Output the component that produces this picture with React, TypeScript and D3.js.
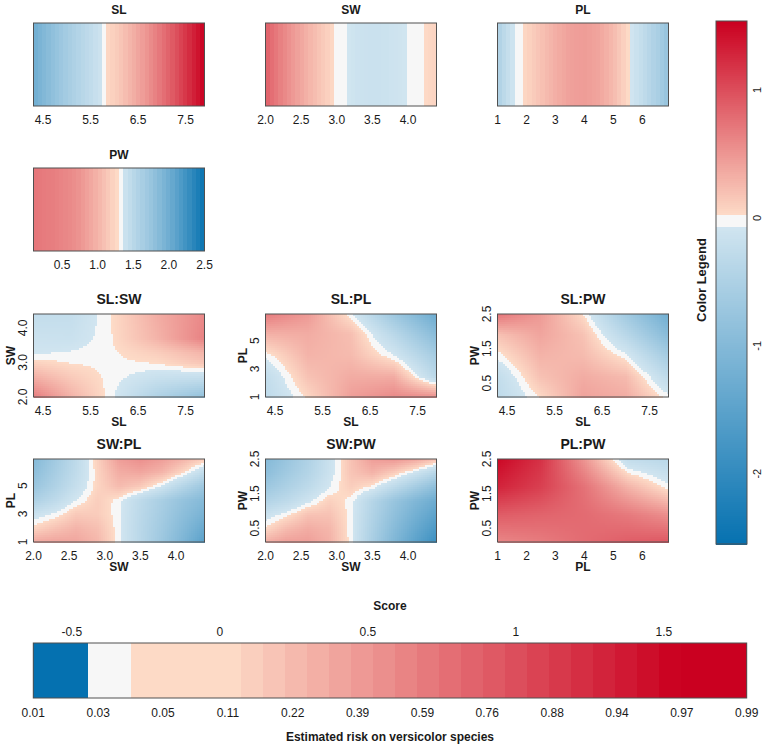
import React from "react";
import * as d3 from "d3";

const FONT = "'Liberation Sans', Arial, Helvetica, sans-serif";

// ---------- 1D main effects (score along each variable) ----------
const SL_X = [4.3, 4.6, 4.9, 5.2, 5.5, 5.75, 5.8, 6.1, 6.4, 6.7, 7.0, 7.3, 7.6, 7.9];
const SL_SCORE = [-1.25, -0.95, -0.68, -0.45, -0.26, -0.08, 0.03, 0.15, 0.33, 0.52, 0.74, 0.98, 1.25, 1.54];
const SW_X = [2.0, 2.2, 2.4, 2.6, 2.8, 2.97, 3.15, 3.3, 3.5, 3.7, 3.98, 4.2, 4.4];
const SW_SCORE = [0.88, 0.66, 0.47, 0.3, 0.15, 0.025, -0.06, -0.12, -0.15, -0.13, -0.06, 0.025, 0.07];
const PL_X = [1.0, 1.3, 1.58, 1.82, 2.0, 2.5, 3.0, 3.5, 4.0, 4.5, 5.0, 5.3, 5.52, 5.62, 6.0, 6.5, 6.9];
const PL_SCORE = [-0.5, -0.25, -0.06, 0.025, 0.07, 0.2, 0.33, 0.43, 0.46, 0.4, 0.25, 0.12, 0.025, -0.06, -0.25, -0.52, -0.8];
const PW_X = [0.1, 0.4, 0.7, 1.0, 1.2, 1.28, 1.34, 1.5, 1.75, 2.0, 2.25, 2.5];
const PW_SCORE = [0.72, 0.66, 0.55, 0.3, 0.1, 0.025, -0.06, -0.35, -0.75, -1.25, -1.85, -2.5];

// ---------- 2D interaction grids (rows = ascending y) ----------
const SLSW_X = [4.3, 5.1, 5.87, 6.9, 7.9];
const SLSW_Y = [2.0, 2.5, 3.0, 3.3, 3.7, 4.4];
const SLSW_GRID = [
  [0.7, 0.32, 0, -0.49, -0.86],
  [0.39, 0.17, 0, -0.21, -0.3],
  [0.09, 0.02, 0, 0.03, 0.18],
  [-0.08, -0.05, 0, 0.12, 0.3],
  [-0.13, -0.15, 0, 0.3, 0.65],
  [-0.24, -0.22, 0, 0.35, 0.6],
];

const SLPL_X = [4.3, 5.2, 6.1, 7.0, 7.9];
const SLPL_Y = [1.0, 2.5, 4.0, 5.5, 6.9];
const SLPL_GRID = [
  [-0.3, 0.05, 0.45, 0.6, 0.6],
  [-0.25, 0.2, 0.35, 0.35, -0.35],
  [-0.03, 0.3, 0.25, -0.06, -0.6],
  [0.32, 0.35, 0.22, -0.35, -0.95],
  [0.7, 0.48, -0.03, -0.7, -1.3],
];

const SLPW_X = [4.3, 5.2, 6.1, 7.0, 7.9];
const SLPW_Y = [0.1, 0.7, 1.3, 1.9, 2.5];
const SLPW_GRID = [
  [-0.3, 0.03, 0.42, 0.35, -0.02],
  [-0.25, 0.2, 0.35, 0.25, -0.3],
  [-0.03, 0.3, 0.25, -0.02, -0.6],
  [0.2, 0.4, 0.2, -0.35, -0.95],
  [0.75, 0.48, 0.03, -0.65, -1.25],
];

const SWPL_X = [2.0, 2.3, 2.6, 2.9, 3.2, 3.5, 3.8, 4.1, 4.4];
const SWPL_Y = [1.0, 2.0, 3.0, 4.0, 5.0, 6.0, 6.9];
const SWPL_GRID = [
  [0.4, 0.42, 0.4, 0.28, -0.03, -0.35, -0.7, -1.1, -1.55],
  [0.08, 0.2, 0.3, 0.22, -0.03, -0.35, -0.65, -1.0, -1.35],
  [-0.15, -0.03, 0.15, 0.13, -0.03, -0.33, -0.6, -0.9, -1.15],
  [-0.5, -0.3, -0.06, 0.12, -0.02, -0.3, -0.55, -0.8, -1.0],
  [-0.75, -0.48, -0.2, 0.07, 0.25, 0.15, -0.08, -0.4, -0.7],
  [-0.9, -0.58, -0.27, 0.08, 0.35, 0.4, 0.3, 0.06, -0.25],
  [-1.0, -0.65, -0.3, 0.1, 0.45, 0.55, 0.45, 0.3, 0.12],
];

const SWPW_X = [2.0, 2.3, 2.6, 2.9, 3.2, 3.5, 3.8, 4.1, 4.4];
const SWPW_Y = [0.1, 0.5, 0.9, 1.3, 1.7, 2.1, 2.5];
const SWPW_GRID = [
  [0.35, 0.45, 0.45, 0.32, -0.02, -0.55, -1.05, -1.5, -1.9],
  [0.05, 0.25, 0.35, 0.28, -0.02, -0.5, -0.95, -1.35, -1.7],
  [-0.15, 0.0, 0.2, 0.2, -0.02, -0.45, -0.85, -1.2, -1.5],
  [-0.45, -0.3, -0.1, 0.1, -0.01, -0.4, -0.75, -1.05, -1.3],
  [-0.7, -0.5, -0.3, -0.06, 0.12, -0.01, -0.3, -0.6, -0.9],
  [-0.9, -0.65, -0.42, -0.13, 0.18, 0.3, 0.12, -0.12, -0.4],
  [-1.0, -0.75, -0.48, -0.15, 0.2, 0.45, 0.5, 0.4, 0.2],
];

const PLPW_X = [1.0, 2.5, 4.0, 5.5, 6.9];
const PLPW_Y = [0.1, 0.9, 1.7, 2.5];
const PLPW_GRID = [
  [0.6, 0.68, 0.8, 0.9, 0.95],
  [0.9, 0.85, 0.8, 0.7, 0.55],
  [1.3, 1.1, 0.75, 0.3, -0.03],
  [1.5, 1.2, 0.5, -0.25, -0.35],
];

// ---------- axis ticks ----------
const SL_TICKS = [4.5, 5.5, 6.5, 7.5];
const SW_TICKS = [2.0, 2.5, 3.0, 3.5, 4.0];
const PL_TICKS = [1, 2, 3, 4, 5, 6];
const PW_TICKS = [0.5, 1.0, 1.5, 2.0, 2.5];
const SW_YTICKS = [2.0, 3.0, 4.0];
const PL_YTICKS = [1, 3, 5];
const PW_YTICKS = [0.5, 1.5, 2.5];

// ---------- legends ----------
const COLOR_LEGEND_TICKS = [-2, -1, 0, 1];
const SCORE_TICKS = [-0.5, 0, 0.5, 1, 1.5];
const RISK_LABELS = ["0.01", "0.03", "0.05", "0.11", "0.22", "0.39", "0.59", "0.76", "0.88", "0.94", "0.97", "0.99"];
const LEGEND_EDGES = [-0.63, -0.445, -0.3, -0.226, -0.151, -0.077, -0.003, 0.072, 0.146, 0.22, 0.294, 0.369, 0.443, 0.517, 0.592, 0.666, 0.74, 0.815, 0.889, 0.963, 1.037, 1.112, 1.186, 1.26, 1.334, 1.409, 1.483, 1.557, 1.632, 1.706, 1.78];
const LEGEND_LEVELS = [-2.55, -0.02, 0.03, 0.03, 0.03, 0.03, 0.034, 0.109, 0.183, 0.257, 0.332, 0.406, 0.48, 0.554, 0.629, 0.703, 0.777, 0.852, 0.926, 1.0, 1.074, 1.149, 1.223, 1.297, 1.371, 1.446, 1.52, 1.54, 1.54, 1.54];

const SCORE_MAX = 1.54;
const SCORE_MIN = -2.55;

// ---------- colour ----------
const redI = d3.interpolateRgb("#fddbc7", "#ca0020");
const blueI = d3.interpolateRgb("#d1e5f0", "#0571b0");
const WHITE_HI = 0.025;
const WHITE_LO = -0.06;
function scoreColor(v: number): string {
  if (v >= WHITE_HI) return redI(Math.min(1, (v - WHITE_HI) / (SCORE_MAX - WHITE_HI)));
  if (v <= WHITE_LO) return blueI(Math.min(1, (WHITE_LO - v) / (WHITE_LO - SCORE_MIN)));
  return "#f7f7f7";
}

function interp1(xs: number[], vs: number[], x: number): number {
  if (x <= xs[0]) return vs[0];
  if (x >= xs[xs.length - 1]) return vs[vs.length - 1];
  const i = d3.bisectRight(xs, x) - 1;
  const t = (x - xs[i]) / (xs[i + 1] - xs[i]);
  return vs[i] * (1 - t) + vs[i + 1] * t;
}
function interp2(xs: number[], ys: number[], grid: number[][], x: number, y: number): number {
  const col = grid.map((row) => interp1(xs, row, x));
  return interp1(ys, col, y);
}

const BORDER = "#505050";
const TXT = "#1a1a1a";
const COLS = [33.5, 265.5, 497.5];
const PW_ = 171;
const PH = 83;

type P1 = { title: string; xs: number[]; vs: number[]; domain: [number, number]; ticks: number[]; fmt: string; x0: number; y0: number };

function Panel1D({ p }: { p: P1 }) {
  const x = d3.scaleLinear().domain(p.domain).range([p.x0, p.x0 + PW_]);
  const n = 40;
  const step = (p.domain[1] - p.domain[0]) / n;
  const stripes = d3.range(n).map((i) => {
    const a = p.domain[0] + i * step;
    return { a, b: a + step, v: interp1(p.xs, p.vs, a + step / 2) };
  });
  const f = d3.format(p.fmt);
  return (
    <g>
      <text x={p.x0 + PW_ / 2} y={p.y0 - 9.5} textAnchor="middle" fontWeight="bold" fontSize={12} fill={TXT}>{p.title}</text>
      <g shapeRendering="crispEdges">
        {stripes.map((s, i) => (
          <rect key={i} x={x(s.a)} y={p.y0} width={x(s.b) - x(s.a) + 0.6} height={PH} fill={scoreColor(s.v)} />
        ))}
      </g>
      <rect x={p.x0} y={p.y0} width={PW_} height={PH} fill="none" stroke={BORDER} strokeWidth={1} />
      {p.ticks.map((t) => (
        <text key={t} x={x(t)} y={p.y0 + PH + 18} textAnchor="middle" fontSize={12} fill={TXT}>{f(t)}</text>
      ))}
    </g>
  );
}

type P2 = {
  title: string; xName: string; yName: string;
  xDomain: [number, number]; yDomain: [number, number];
  xTicks: number[]; yTicks: number[]; xFmt: string; yFmt: string;
  gx: number[]; gy: number[]; grid: number[][]; x0: number; y0: number;
};

function Panel2D({ p }: { p: P2 }) {
  const x = d3.scaleLinear().domain(p.xDomain).range([p.x0, p.x0 + PW_]);
  const y = d3.scaleLinear().domain(p.yDomain).range([p.y0 + PH, p.y0]);
  const nx = 86, ny = 42;
  const sx = (p.xDomain[1] - p.xDomain[0]) / nx;
  const sy = (p.yDomain[1] - p.yDomain[0]) / ny;
  const cells: { x: number; y: number; w: number; h: number; c: string }[] = [];
  for (let j = 0; j < ny; j++) {
    const ya = p.yDomain[0] + j * sy;
    for (let i = 0; i < nx; i++) {
      const xa = p.xDomain[0] + i * sx;
      const v = interp2(p.gx, p.gy, p.grid, xa + sx / 2, ya + sy / 2);
      cells.push({ x: x(xa), y: y(ya + sy), w: x(xa + sx) - x(xa) + 0.5, h: y(ya) - y(ya + sy) + 0.5, c: scoreColor(v) });
    }
  }
  const fx = d3.format(p.xFmt);
  const fy = d3.format(p.yFmt);
  return (
    <g>
      <text x={p.x0 + PW_ / 2} y={p.y0 - 10} textAnchor="middle" fontWeight="bold" fontSize={14} fill={TXT}>{p.title}</text>
      <g shapeRendering="crispEdges">
        {cells.map((c, i) => (
          <rect key={i} x={c.x} y={c.y} width={c.w} height={c.h} fill={c.c} />
        ))}
      </g>
      <rect x={p.x0} y={p.y0} width={PW_} height={PH} fill="none" stroke={BORDER} strokeWidth={1} />
      {p.xTicks.map((t) => (
        <text key={t} x={x(t)} y={p.y0 + PH + 17.5} textAnchor="middle" fontSize={12} fill={TXT}>{fx(t)}</text>
      ))}
      <text x={p.x0 + PW_ / 2} y={p.y0 + PH + 29} textAnchor="middle" fontWeight="bold" fontSize={12} fill={TXT}>{p.xName}</text>
      {p.yTicks.map((t) => (
        <text key={t} transform={`translate(${p.x0 - 7},${y(t)}) rotate(-90)`} textAnchor="middle" fontSize={12} fill={TXT}>{fy(t)}</text>
      ))}
      <text transform={`translate(${p.x0 - 18.5},${p.y0 + PH / 2}) rotate(-90)`} textAnchor="middle" fontWeight="bold" fontSize={12} fill={TXT}>{p.yName}</text>
    </g>
  );
}

export default function App() {
  const r1 = 23, r2 = 168, r3 = 314, r4 = 459;
  const p1: P1[] = [
    { title: "SL", xs: SL_X, vs: SL_SCORE, domain: [4.3, 7.9], ticks: SL_TICKS, fmt: ".1f", x0: COLS[0], y0: r1 },
    { title: "SW", xs: SW_X, vs: SW_SCORE, domain: [2.0, 4.4], ticks: SW_TICKS, fmt: ".1f", x0: COLS[1], y0: r1 },
    { title: "PL", xs: PL_X, vs: PL_SCORE, domain: [1.0, 6.9], ticks: PL_TICKS, fmt: "d", x0: COLS[2], y0: r1 },
    { title: "PW", xs: PW_X, vs: PW_SCORE, domain: [0.1, 2.5], ticks: PW_TICKS, fmt: ".1f", x0: COLS[0], y0: r2 },
  ];
  const p2: P2[] = [
    { title: "SL:SW", xName: "SL", yName: "SW", xDomain: [4.3, 7.9], yDomain: [2.0, 4.4], xTicks: SL_TICKS, yTicks: SW_YTICKS, xFmt: ".1f", yFmt: ".1f", gx: SLSW_X, gy: SLSW_Y, grid: SLSW_GRID, x0: COLS[0], y0: r3 },
    { title: "SL:PL", xName: "SL", yName: "PL", xDomain: [4.3, 7.9], yDomain: [1.0, 6.9], xTicks: SL_TICKS, yTicks: PL_YTICKS, xFmt: ".1f", yFmt: "d", gx: SLPL_X, gy: SLPL_Y, grid: SLPL_GRID, x0: COLS[1], y0: r3 },
    { title: "SL:PW", xName: "SL", yName: "PW", xDomain: [4.3, 7.9], yDomain: [0.1, 2.5], xTicks: SL_TICKS, yTicks: PW_YTICKS, xFmt: ".1f", yFmt: ".1f", gx: SLPW_X, gy: SLPW_Y, grid: SLPW_GRID, x0: COLS[2], y0: r3 },
    { title: "SW:PL", xName: "SW", yName: "PL", xDomain: [2.0, 4.4], yDomain: [1.0, 6.9], xTicks: SW_TICKS, yTicks: PL_YTICKS, xFmt: ".1f", yFmt: "d", gx: SWPL_X, gy: SWPL_Y, grid: SWPL_GRID, x0: COLS[0], y0: r4 },
    { title: "SW:PW", xName: "SW", yName: "PW", xDomain: [2.0, 4.4], yDomain: [0.1, 2.5], xTicks: SW_TICKS, yTicks: PW_YTICKS, xFmt: ".1f", yFmt: ".1f", gx: SWPW_X, gy: SWPW_Y, grid: SWPW_GRID, x0: COLS[1], y0: r4 },
    { title: "PL:PW", xName: "PL", yName: "PW", xDomain: [1.0, 6.9], yDomain: [0.1, 2.5], xTicks: PL_TICKS, yTicks: PW_YTICKS, xFmt: "d", yFmt: ".1f", gx: PLPW_X, gy: PLPW_Y, grid: PLPW_GRID, x0: COLS[2], y0: r4 },
  ];

  // right colour legend
  const ly = d3.scaleLinear().domain([SCORE_MIN, SCORE_MAX]).range([544, 21]);
  const nL = 260;
  const lstep = (SCORE_MAX - SCORE_MIN) / nL;
  const lbands = d3.range(nL).map((i) => {
    const a = SCORE_MIN + i * lstep;
    return { y: ly(a + lstep), h: ly(a) - ly(a + lstep) + 0.6, c: scoreColor(a + lstep / 2) };
  });

  // bottom legend
  const sx = d3.scaleLinear().domain([LEGEND_EDGES[0], LEGEND_EDGES[LEGEND_EDGES.length - 1]]).range([33.3, 746.7]);
  const rx = d3.scalePoint<string>().domain(RISK_LABELS).range([33.3, 746.7]);
  const by0 = 643, by1 = 698;

  return (
    <svg width={764} height={748} style={{ position: "absolute", left: 0, top: 0, background: "#fff" }} fontFamily={FONT}>
      <rect width={764} height={748} fill="#fff" />
      {p1.map((p) => <Panel1D key={p.title} p={p} />)}
      {p2.map((p) => <Panel2D key={p.title} p={p} />)}

      {/* colour legend */}
      <g shapeRendering="crispEdges">
        {lbands.map((b, i) => <rect key={i} x={716} y={b.y} width={31} height={b.h} fill={b.c} />)}
      </g>
      <rect x={716} y={21} width={31} height={523} fill="none" stroke={BORDER} />
      {COLOR_LEGEND_TICKS.map((t) => (
        <text key={t} transform={`translate(761,${ly(t)}) rotate(-90)`} textAnchor="middle" fontSize={11} fill={TXT}>{t}</text>
      ))}
      <text transform={`translate(706,${280}) rotate(-90)`} textAnchor="middle" fontWeight="bold" fontSize={13} fill={TXT}>Color Legend</text>

      {/* score / risk legend */}
      <text x={390} y={610} textAnchor="middle" fontWeight="bold" fontSize={12} fill={TXT}>Score</text>
      {SCORE_TICKS.map((t) => (
        <text key={t} x={sx(t)} y={636} textAnchor="middle" fontSize={12} fill={TXT}>{t}</text>
      ))}
      <g shapeRendering="crispEdges">
        {LEGEND_LEVELS.map((lv, i) => (
          <rect key={i} x={sx(LEGEND_EDGES[i])} y={by0} width={sx(LEGEND_EDGES[i + 1]) - sx(LEGEND_EDGES[i]) + 0.5} height={by1 - by0} fill={scoreColor(lv)} />
        ))}
      </g>
      <rect x={33.3} y={by0} width={746.7 - 33.3} height={by1 - by0} fill="none" stroke={BORDER} />
      {RISK_LABELS.map((r) => (
        <text key={r} x={rx(r)} y={716.5} textAnchor="middle" fontSize={12} fill={TXT}>{r}</text>
      ))}
      <text x={390} y={741} textAnchor="middle" fontWeight="bold" fontSize={12} fill={TXT}>Estimated risk on versicolor species</text>
    </svg>
  );
}
